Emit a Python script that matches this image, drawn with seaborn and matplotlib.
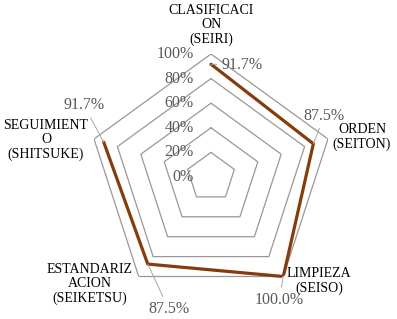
import matplotlib
matplotlib.use("Agg")
import matplotlib.pyplot as plt
import numpy as np
import pandas as pd
import seaborn as sns

# chart data
categories = ["CLASIFICACI\nON\n(SEIRI)", "ORDEN\n(SEITON)", "LIMPIEZA\n(SEISO)",
              "ESTANDARIZ\nACION\n(SEIKETSU)", "SEGUIMIENT\nO\n(SHITSUKE)"]
values = [91.7, 87.5, 100.0, 87.5, 91.7]
value_labels = ["91.7%", "87.5%", "100.0%", "87.5%", "91.7%"]
ring_levels = [20, 40, 60, 80, 100]
tick_levels = [0, 20, 40, 60, 80, 100]
tick_labels = ["0%", "20%", "40%", "60%", "80%", "100%"]

sns.set_theme(style="white")
plt.rcParams["font.family"] = ["Liberation Serif", "DejaVu Serif"]

W, H = 397, 319
fig = plt.figure(figsize=(W / 100, H / 100), dpi=100)
fig.patch.set_facecolor("white")

def px(x, y):
    return x / W, 1 - y / H

cx, cy, R = 211, 177, 123
ax = fig.add_axes([(cx - R) / W, (H - cy - R) / H, 2 * R / W, 2 * R / H], projection="polar")
ax.set_theta_offset(np.pi / 2)
ax.set_theta_direction(-1)
ax.grid(False)
ax.spines["polar"].set_visible(False)
ax.patch.set_alpha(0)

n = len(categories)
theta = np.linspace(0, 2 * np.pi, n, endpoint=False)
theta_closed = np.append(theta, theta[0])

grid_color = "#9c9696"
for lvl in ring_levels:
    ax.plot(theta_closed, [lvl] * (n + 1), color=grid_color, lw=0.9, zorder=1)

df = pd.DataFrame({"theta": theta_closed, "value": values + values[:1]})
sns.lineplot(data=df, x="theta", y="value", sort=False, ax=ax,
             color="#843C0C", lw=2.3, zorder=3)

ax.set_ylim(0, 100)
ax.set_xticks([])
ax.set_yticks([])
ax.set_xlabel("")
ax.set_ylabel("")

# radial tick labels
for lvl, lab in zip(tick_levels, tick_labels):
    ax.annotate(lab, xy=(0, lvl), xytext=(-17, 0), textcoords="offset pixels",
                ha="right", va="center", color="#595959", fontsize=11.5)

# data labels with leader lines
label_offsets = [(31, -1), (11, 28), (-4, -23), (21, -45), (-20, 37)]
for t, v, lab, off in zip(theta, values, value_labels, label_offsets):
    ax.annotate(lab, xy=(t, v), xytext=off, textcoords="offset pixels",
                ha="center", va="center", color="#595959", fontsize=11.5,
                arrowprops=dict(arrowstyle="-", color="#a6a6a6", lw=0.7,
                                shrinkA=1, shrinkB=0))

# category labels
cat_pos = [(211, 25), (362, 137), (319, 281), (90, 284), (46, 140)]
for lab, (x, y) in zip(categories, cat_pos):
    fig.text(*px(x, y), lab, ha="center", va="center", multialignment="center",
             fontsize=10, color="black", linespacing=1.15)

fig.savefig("out.png", dpi=100)
